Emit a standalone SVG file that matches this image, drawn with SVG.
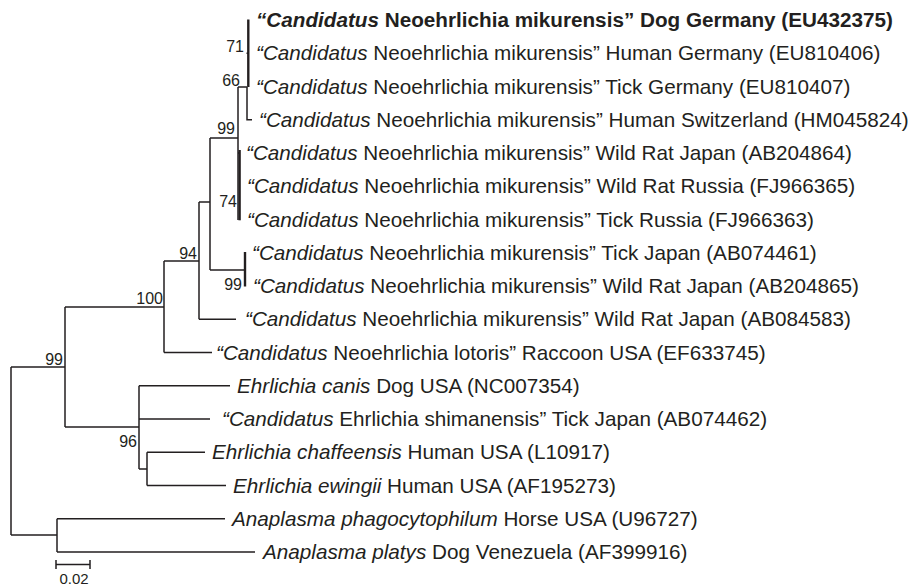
<svg xmlns="http://www.w3.org/2000/svg" width="913" height="587" viewBox="0 0 913 587">
<style>
text{font-family:"Liberation Sans",Arial,Helvetica,sans-serif;fill:#231f20}
.leaf{font-size:20.7px}
.bs{font-size:16px;text-anchor:end}
.i{font-style:italic}
.b{font-weight:bold}
.br{fill:none;stroke:#231f20;stroke-width:1.5}
.th{fill:none;stroke:#231f20;stroke-width:2.4}
</style>
<rect width="913" height="587" fill="#fff"/>
<g id="connectors">
<path class="br" d="M11,367V535M11,367H65M11,535H57"/>
<path class="br" d="M65,307V427M65,307H164M65,427H139"/>
<path class="br" d="M164,261V352.5M164,261H199M164,352.5H212"/>
<path class="br" d="M199,202V319.25M199,202H210M199,319.25H236"/>
<path class="br" d="M210,138V270M210,138H238M210,270H245"/>
<path class="th" d="M245,252V286.5"/>
<path class="br" d="M238,87V220M238,87H247M238,153H240"/>
<path class="th" d="M239.6,150V220.3"/>
<path class="br" d="M247,87V119.75H252"/>
<path class="th" d="M248.3,19.5V87"/>
<path class="br" d="M246.5,53.25H249"/>
<path class="br" d="M139,385.75V469M139,385.75H230M139,419H210M139,469H147"/>
<path class="br" d="M147,452.25V485.5M147,452.25H205M147,485.5H226"/>
<path class="br" d="M57,518.75V552M57,518.75H225M57,552H255"/>
<path class="br" d="M56,560V569M56,564.5H90M90,560V569"/>
</g>
<g id="bootstrap">
<text class="bs" x="244" y="52">71</text>
<text class="bs" x="240" y="86">66</text>
<text class="bs" x="235" y="134">99</text>
<text class="bs" x="237" y="207">74</text>
<text class="bs" x="197" y="259">94</text>
<text class="bs" x="242" y="290">99</text>
<text class="bs" x="163" y="304">100</text>
<text class="bs" x="63" y="365">99</text>
<text class="bs" x="137" y="447">96</text>
</g>
<g id="scale"><text x="74" y="584" font-size="15" text-anchor="middle">0.02</text></g>
<g id="n1"><text class="leaf b" x="256" y="27"><tspan class="i">“Candidatus</tspan> Neoehrlichia mikurensis” Dog Germany (EU432375)</text></g>
<g id="n2"><text class="leaf" x="256" y="60.25"><tspan class="i">“Candidatus</tspan> Neoehrlichia mikurensis” Human Germany (EU810406)</text></g>
<g id="n3"><text class="leaf" x="256" y="93.5"><tspan class="i">“Candidatus</tspan> Neoehrlichia mikurensis” Tick Germany (EU810407)</text></g>
<g id="n4"><text class="leaf" x="259" y="126.75"><tspan class="i">“Candidatus</tspan> Neoehrlichia mikurensis” Human Switzerland (HM045824)</text></g>
<g id="n5"><text class="leaf" x="246" y="160"><tspan class="i">“Candidatus</tspan> Neoehrlichia mikurensis” Wild Rat Japan (AB204864)</text></g>
<g id="n6"><text class="leaf" x="247" y="193.25"><tspan class="i">“Candidatus</tspan> Neoehrlichia mikurensis” Wild Rat Russia (FJ966365)</text></g>
<g id="n7"><text class="leaf" x="247" y="226.5"><tspan class="i">“Candidatus</tspan> Neoehrlichia mikurensis” Tick Russia (FJ966363)</text></g>
<g id="n8"><text class="leaf" x="252" y="259.75"><tspan class="i">“Candidatus</tspan> Neoehrlichia mikurensis” Tick Japan (AB074461)</text></g>
<g id="n9"><text class="leaf" x="253" y="293"><tspan class="i">“Candidatus</tspan> Neoehrlichia mikurensis” Wild Rat Japan (AB204865)</text></g>
<g id="n10"><text class="leaf" x="245" y="326.25"><tspan class="i">“Candidatus</tspan> Neoehrlichia mikurensis” Wild Rat Japan (AB084583)</text></g>
<g id="n11"><text class="leaf" x="216" y="359.5"><tspan class="i">“Candidatus</tspan> Neoehrlichia lotoris” Raccoon USA (EF633745)</text></g>
<g id="n12"><text class="leaf" x="237" y="392.75"><tspan class="i">Ehrlichia canis</tspan> Dog USA (NC007354)</text></g>
<g id="n13"><text class="leaf" x="222" y="426"><tspan class="i">“Candidatus</tspan> Ehrlichia shimanensis” Tick Japan (AB074462)</text></g>
<g id="n14"><text class="leaf" x="212" y="459.25"><tspan class="i">Ehrlichia chaffeensis</tspan> Human USA (L10917)</text></g>
<g id="n15"><text class="leaf" x="233" y="492.5"><tspan class="i">Ehrlichia ewingii</tspan> Human USA (AF195273)</text></g>
<g id="n16"><text class="leaf" x="232" y="525.75"><tspan class="i">Anaplasma phagocytophilum</tspan> Horse USA (U96727)</text></g>
<g id="n17"><text class="leaf" x="263" y="559"><tspan class="i">Anaplasma platys</tspan> Dog Venezuela (AF399916)</text></g>
</svg>
